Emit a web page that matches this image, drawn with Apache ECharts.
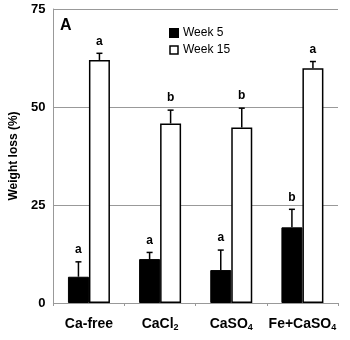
<!DOCTYPE html>
<html>
<head>
<meta charset="utf-8">
<script src="https://cdn.jsdelivr.net/npm/echarts@6/dist/echarts.min.js"></script>
<style>
  html, body { margin: 0; padding: 0; background: #fff; }
  #chart { width: 350px; height: 340px; }
</style>
</head>
<body>
<div id="chart"></div>
<script>
// data
const categories = ['Ca-free', 'CaCl2', 'CaSO4', 'Fe+CaSO4']
const week5 = [6.7, 11.2, 8.4, 19.3]
const week5Err = [10.5, 12.9, 13.5, 23.9]
const week5Letters = ['a', 'a', 'a', 'b']
const week15 = [62, 45.8, 44.8, 59.9]
const week15Err = [63.7, 49.2, 49.7, 61.6]
const week15Letters = ['a', 'b', 'b', 'a']
const yTicks = [0, 25, 50, 75]

const chart = echarts.init(document.getElementById('chart'))

// 类别标签（下标）
function catLabel(v) {
  if (v === 'CaCl2') return 'CaCl{sub|2}'
  if (v === 'CaSO4') return 'CaSO{sub|4}'
  if (v === 'Fe+CaSO4') return 'Fe+CaSO{sub|4}'
  return v
}

// 误差线 + 字母
function errRender(offset) {
  return function (params, api) {
    const idx = api.value(0)
    const x = api.coord([idx, 0])[0] + offset
    const y0 = api.coord([idx, api.value(1)])[1]
    const y1 = api.coord([idx, api.value(2)])[1]
    const letter = params.seriesName === 'e5' ? week5Letters[idx] : week15Letters[idx]
    const st = { stroke: '#000', lineWidth: 1.5 }
    return {
      type: 'group',
      children: [
        { type: 'line', shape: { x1: x, y1: y0, x2: x, y2: y1 }, style: st },
        { type: 'line', shape: { x1: x - 3, y1: y1, x2: x + 3, y2: y1 }, style: st },
        {
          type: 'text',
          style: {
            x: x, y: y1 - 6, text: letter, fill: '#000',
            font: 'bold 12px Arial', align: 'center', verticalAlign: 'bottom'
          }
        }
      ]
    }
  }
}

const option = {
  animation: false,
  backgroundColor: '#fff',
  title: {
    text: 'A', left: 55, top: 13,
    textStyle: { fontFamily: 'Arial', fontWeight: 'bold', fontSize: 16, color: '#000' }
  },
  legend: {
    orient: 'vertical', left: 164, top: 22,
    itemWidth: 8, itemHeight: 8, itemGap: 5,
    textStyle: { fontFamily: 'Arial', fontSize: 12, color: '#000' },
    data: [
      { name: 'Week 5', icon: 'rect', itemStyle: { color: '#000' } },
      { name: 'Week 15', icon: 'rect', itemStyle: { color: '#fff', borderColor: '#000', borderWidth: 1.5 } }
    ]
  },
  grid: { left: 42, right: 12, top: 9, bottom: 37 },
  xAxis: {
    type: 'category',
    data: categories,
    axisLine: { lineStyle: { color: '#999', width: 1 } },
    axisTick: { show: true, length: 3, lineStyle: { color: '#999' } },
    axisLabel: {
      interval: 0, margin: 14, color: '#000', fontFamily: 'Arial', fontWeight: 'bold', fontSize: 14,
      formatter: catLabel,
      rich: { sub: { fontFamily: 'Arial', fontWeight: 'bold', fontSize: 9, verticalAlign: 'bottom', padding: [6, 0, 0, 0] } }
    }
  },
  yAxis: {
    type: 'value', min: 0, max: 75, interval: 25,
    name: 'Weight loss (%)', nameLocation: 'middle', nameGap: 31,
    nameTextStyle: { fontFamily: 'Arial', fontWeight: 'bold', fontSize: 12, color: '#000' },
    axisLine: { show: true, lineStyle: { color: '#999', width: 1 } },
    axisTick: { show: false },
    splitLine: { lineStyle: { color: '#999', width: 1 } },
    axisLabel: {
      margin: 8, color: '#000', fontFamily: 'Arial', fontWeight: 'bold', fontSize: 13,
      formatter: v => (yTicks.includes(v) ? String(v) : '')
    }
  },
  series: [
    {
      name: 'Week 5', type: 'bar', data: week5,
      barWidth: 21, barGap: '0%',
      itemStyle: { color: '#000', borderColor: '#000', borderWidth: 1 }
    },
    {
      name: 'Week 15', type: 'bar', data: week15,
      barWidth: 21,
      itemStyle: { color: '#fff', borderColor: '#000', borderWidth: 1.5 }
    },
    {
      name: 'e5', type: 'custom', renderItem: errRender(-10.5), z: 5,
      data: week5.map((v, i) => [i, v, week5Err[i]])
    },
    {
      name: 'e15', type: 'custom', renderItem: errRender(10.5), z: 5,
      data: week15.map((v, i) => [i, v, week15Err[i]])
    }
  ]
}

chart.setOption(option)
</script>
</body>
</html>
